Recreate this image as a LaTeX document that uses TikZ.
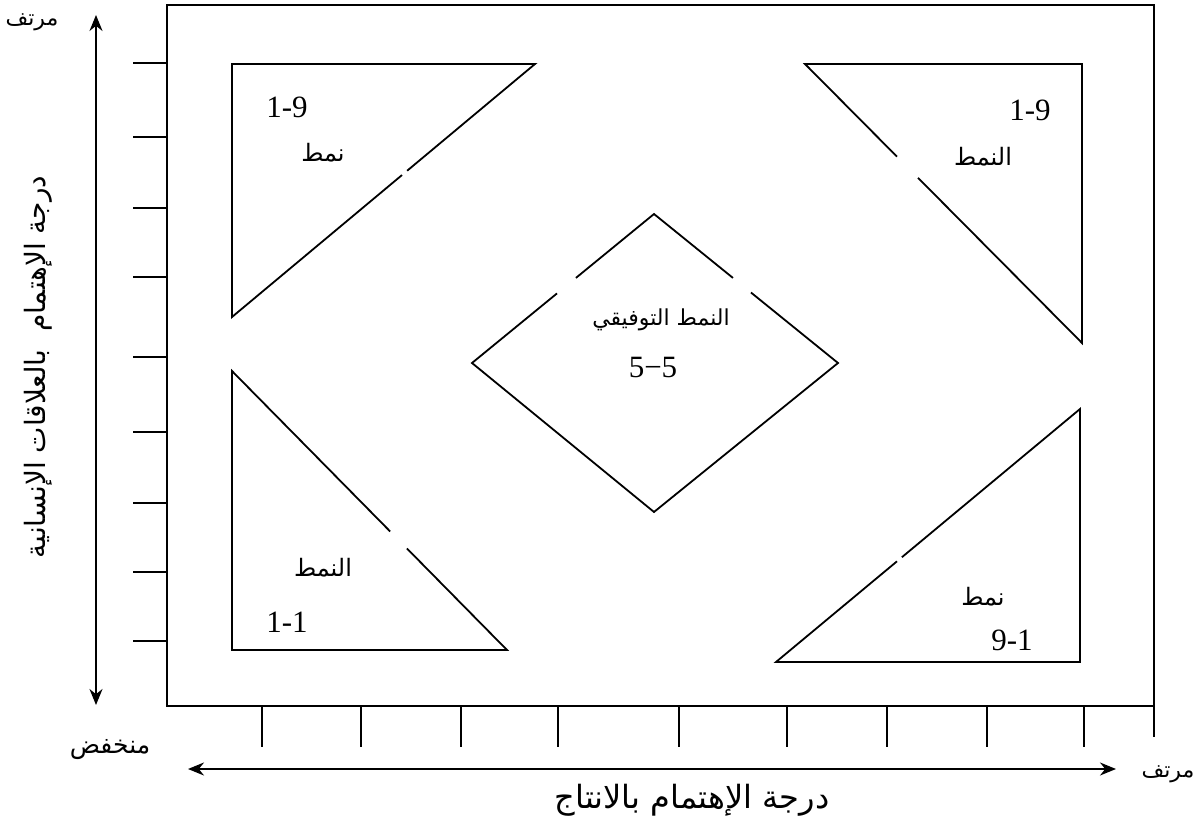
\documentclass[tikz,border=0pt]{standalone}
\usepackage{fontspec}
\setmainfont{Liberation Serif}
\newfontfamily\arabicfont[Script=Arabic]{DejaVu Sans}
\TeXXeTstate=1
\usetikzlibrary{arrows.meta,calc}
\tikzset{
  shapeline/.style={line width=1.8pt, line cap=butt},
  frameline/.style={line width=2pt},
  tickline/.style={line width=1.8pt},
  axisarrow/.style={line width=2pt, {Stealth[length=16pt,width=13pt]}-{Stealth[length=16pt,width=13pt]}},
  numlabel/.style={inner sep=0pt, font=\fontsize{31}{34}\selectfont},
  innerar/.style={inner sep=0pt, font=\arabicfont\fontsize{24}{28}\selectfont},
  outerar/.style={inner sep=0pt, font=\arabicfont\fontsize{25}{30}\selectfont},
}
\begin{document}
\begin{tikzpicture}[x=1pt,y=-1pt]
\useasboundingbox (0,0) rectangle (1200,821);
% frame
\coordinate (F1) at (167,5);
\coordinate (F2) at (1154,706);
\draw[frameline] (F1) rectangle (F2);
\coordinate (RE1) at (1154,706);
\coordinate (RE2) at (1154,737);
\draw[frameline] (RE1) -- (RE2);
% left ticks
\foreach \y in {63,137,208,277,357,432,503,572,641}{
  \draw[tickline] (133,\y) -- (167,\y);
}
% bottom ticks
\foreach \x in {262,361,461,558,679,787,887,987,1084}{
  \draw[tickline] (\x,706) -- (\x,747);
}
% axes
\coordinate (VA) at (96,15);
\coordinate (VB) at (96,705);
\draw[axisarrow] (VA) -- (VB);
\coordinate (HA) at (188,769);
\coordinate (HB) at (1116,769);
\draw[axisarrow] (HA) -- (HB);
% axis labels
\node[outerar, font=\arabicfont\fontsize{22}{26}\selectfont] (hiL) at (32,22) {\beginR مرتف\endR};
\node[outerar] (loL) at (110,750) {\beginR منخفض\endR};
\node[outerar, font=\arabicfont\fontsize{22}{26}\selectfont] (hiR) at (1168,774) {\beginR مرتف\endR};
\node[outerar, font=\arabicfont\fontsize{32}{36}\selectfont] (xlab) at (692,800) {\beginR درجة الإهتمام بالانتاج\endR};
\node[outerar, rotate=90, font=\arabicfont\fontsize{28}{32}\selectfont] (ylab) at (38,367) {\beginR درجة الإهتمام\ \ بالعلاقات الإنسانية\endR};
% top-left triangle
\coordinate (A1) at (232,64); \coordinate (A2) at (535,64); \coordinate (A3) at (232,317);
\draw[shapeline] ($(A2)!0.422!(A3)$) -- (A2) -- (A1) -- (A3) -- ($(A2)!0.439!(A3)$);
\node[numlabel] (n19a) at (287,107) {1-9};
\node[innerar] (t19a) at (323,153) {\beginR نمط\endR};
% top-right triangle
\coordinate (B1) at (805,64); \coordinate (B2) at (1082,64); \coordinate (B3) at (1082,343);
\draw[shapeline] ($(B1)!0.332!(B3)$) -- (B1) -- (B2) -- (B3) -- ($(B1)!0.408!(B3)$);
\node[numlabel] (n19b) at (1030,110) {1-9};
\node[innerar] (t19b) at (983,157) {\beginR النمط\endR};
% diamond
\coordinate (DT) at (654,214); \coordinate (DL) at (472,363);
\coordinate (DR) at (838,363); \coordinate (DB) at (654,512);
\draw[shapeline] ($(DL)!0.467!(DT)$) -- (DL) -- (DB) -- (DR) -- ($(DT)!0.527!(DR)$);
\draw[shapeline] ($(DL)!0.571!(DT)$) -- (DT) -- ($(DT)!0.429!(DR)$);
\node[innerar, font=\arabicfont\fontsize{22}{26}\selectfont] (t55) at (661,320) {\beginR النمط التوفيقي\endR};
\node[numlabel] (n55) at (653,368) {5−5};
% bottom-left triangle
\coordinate (C1) at (232,371); \coordinate (C2) at (232,650); \coordinate (C3) at (507,650);
\draw[shapeline] ($(C1)!0.575!(C3)$) -- (C1) -- (C2) -- (C3) -- ($(C1)!0.636!(C3)$);
\node[innerar] (t11) at (323,568) {\beginR النمط\endR};
\node[numlabel] (n11) at (287,622) {1-1};
% bottom-right triangle
\coordinate (E1) at (1080,409); \coordinate (E2) at (1080,662); \coordinate (E3) at (776,662);
\draw[shapeline] ($(E1)!0.586!(E3)$) -- (E1) -- (E2) -- (E3) -- ($(E1)!0.602!(E3)$);
\node[innerar] (t91) at (983,597) {\beginR نمط\endR};
\node[numlabel] (n91) at (1012,640) {9-1};
\end{tikzpicture}
\end{document}
